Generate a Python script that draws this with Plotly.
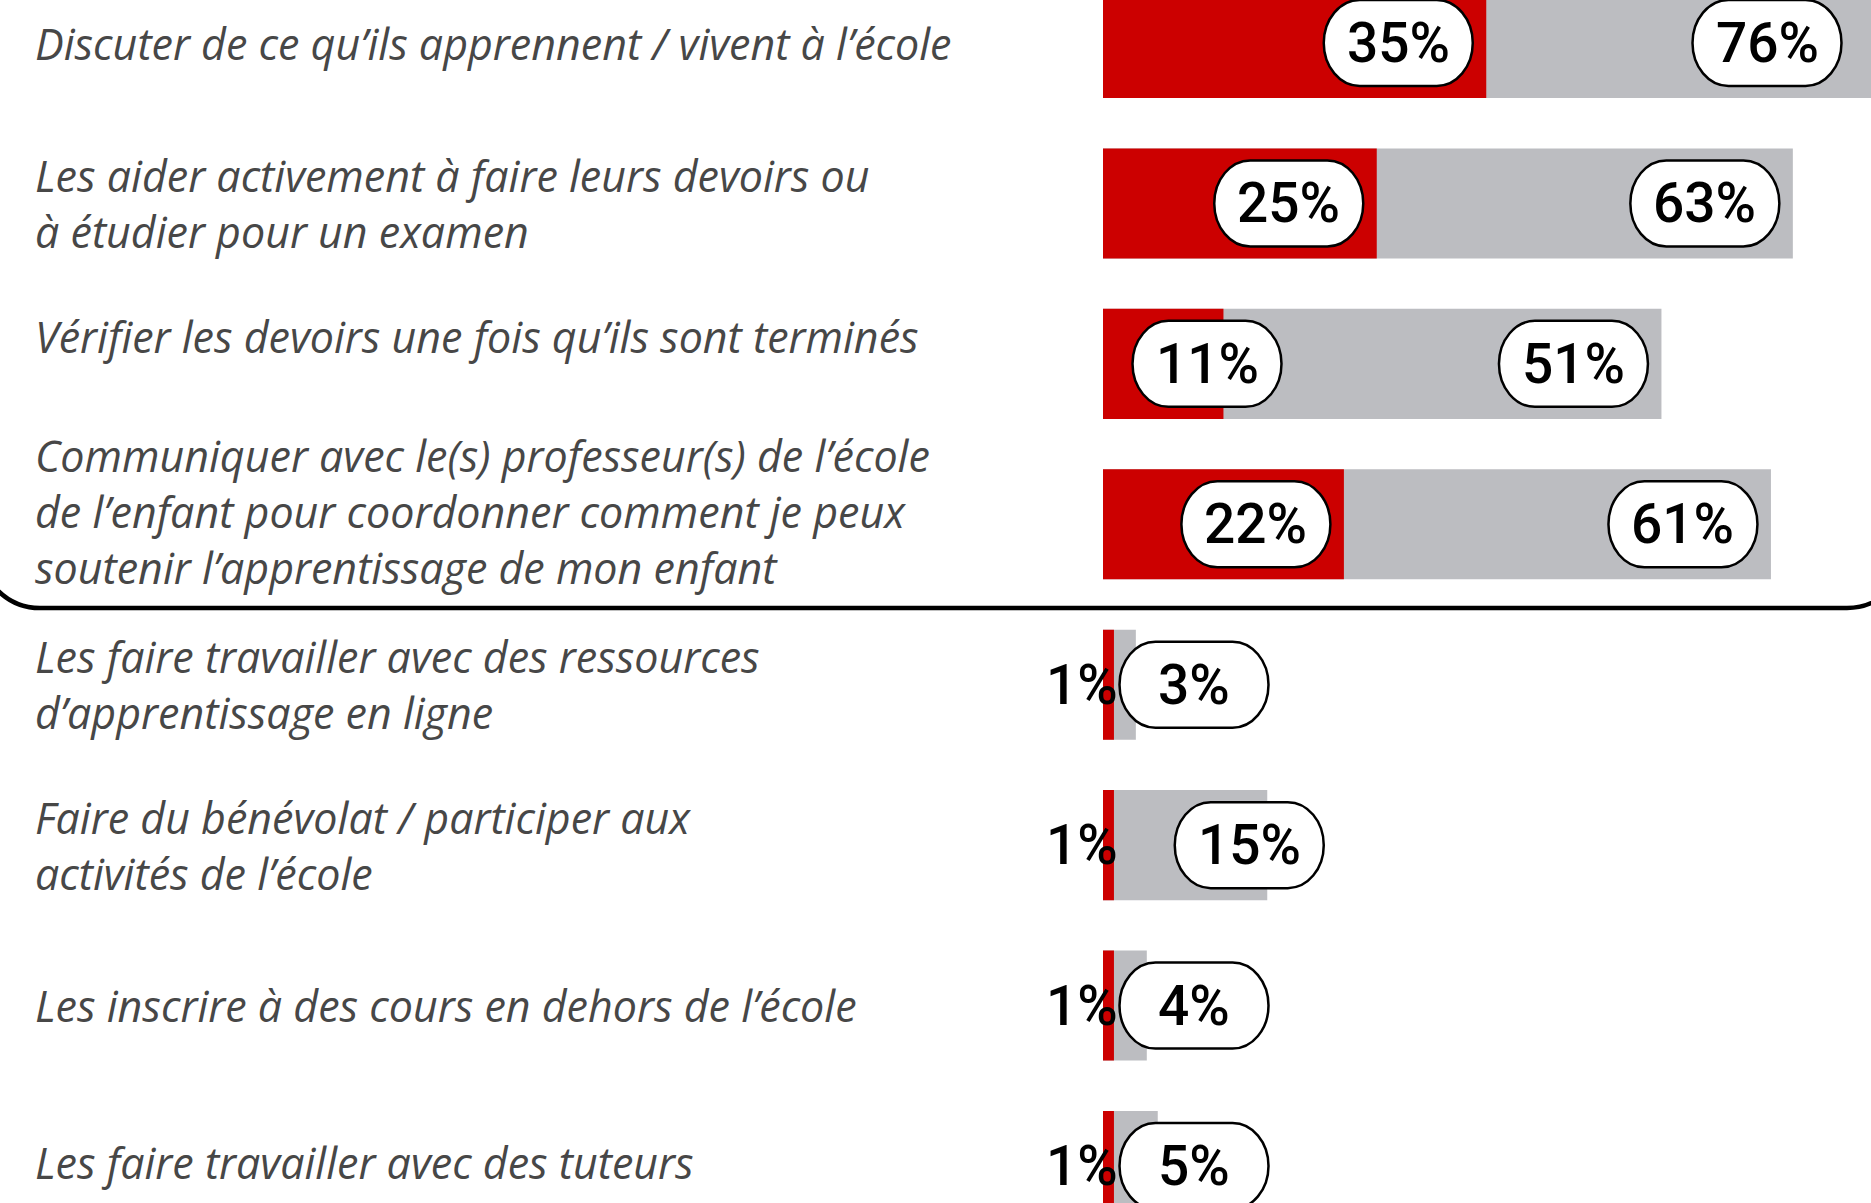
import plotly.graph_objects as go

categories = [
    "Discuter de ce qu’ils apprennent / vivent à l’école",
    "Les aider activement à faire leurs devoirs ou<br>à étudier pour un examen",
    "Vérifier les devoirs une fois qu’ils sont terminés",
    "Communiquer avec le(s) professeur(s) de l’école<br>de l’enfant pour coordonner comment je peux<br>soutenir l’apprentissage de mon enfant",
    "Les faire travailler avec des ressources<br>d’apprentissage en ligne",
    "Faire du bénévolat / participer aux<br>activités de l’école",
    "Les inscrire à des cours en dehors de l’école",
    "Les faire travailler avec des tuteurs",
]
red_values = [35, 25, 11, 22, 1, 1, 1, 1]
grey_values = [76, 63, 51, 61, 3, 15, 4, 5]
highlighted_rows = 4  # first rows inside the framed block

# ---- layout / style constants ----
W, H = 1871, 1203
X0_PX = 1103          # pixel position of value 0
K = 10.95             # pixels per percentage point
ROW0_PX, ROW_STEP = 43, 160.43
RED, GREY = "#CC0000", "#BCBDC1"
TEXT_GREY = "#474747"
label_yshift = [0, 0, 27, 13, 0, 0, 0, 4]
PILL_FONT = dict(family="Roboto", size=55, color="black", weight=500)

x_range = [-X0_PX / K, (W - X0_PX) / K]
y_top = -ROW0_PX / ROW_STEP
y_bot = y_top + H / ROW_STEP
rows = list(range(len(categories)))

fig = go.Figure()
fig.add_trace(go.Bar(y=rows, x=grey_values, orientation="h", marker_color=GREY,
                     width=0.686, marker_line_width=0, showlegend=False, hoverinfo="skip"))
fig.add_trace(go.Bar(y=rows, x=red_values, orientation="h", marker_color=RED,
                     width=0.686, marker_line_width=0, showlegend=False, hoverinfo="skip"))

annotations = []
shapes = []

PW2, PH2, RX = 74.5, 43, 36
C = 0.5523


def pill_path(cx):
    l, r = cx - PW2, cx + PW2
    t, b = PH2, -PH2
    kx, ky = C * RX, C * PH2
    return (f"M {l+RX},{t} L {r-RX},{t} "
            f"C {r-RX+kx},{t} {r},{ky} {r},0 "
            f"C {r},{-ky} {r-RX+kx},{b} {r-RX},{b} "
            f"L {l+RX},{b} "
            f"C {l+RX-kx},{b} {l},{-ky} {l},0 "
            f"C {l},{ky} {l+RX-kx},{t} {l+RX},{t} Z")


def add_pill(row, value, center_px):
    shapes.append(dict(type="path", xref="x", yref="y", xsizemode="pixel", ysizemode="pixel",
                       xanchor=0, yanchor=row, path=pill_path(center_px),
                       fillcolor="white", line=dict(color="black", width=2.5), layer="above"))
    annotations.append(dict(x=0, y=row, xref="x", yref="y", xshift=center_px, showarrow=False,
                            text=f"{value}%", xanchor="center", yanchor="middle",
                            font=PILL_FONT))


for i, (cat, rv, gv) in enumerate(zip(categories, red_values, grey_values)):
    annotations.append(dict(x=33 / W, y=i, xref="paper", yref="y", xanchor="left",
                            yanchor="middle", align="left", showarrow=False, text=cat,
                            yshift=label_yshift[i],
                            font=dict(family="Open Sans", size=43, color=TEXT_GREY,
                                      style="italic")))
    if i < highlighted_rows:
        for v in (rv, gv):
            c = min(max(v * K - 88, 104), (W - X0_PX) - 104)
            add_pill(i, v, c)
    else:
        annotations.append(dict(x=0, y=i, xref="x", yref="y", xanchor="right", yanchor="middle",
                                xshift=17, showarrow=False, text=f"{rv}%", font=PILL_FONT))
        add_pill(i, gv, max(gv * K - 18, 91))


# framing rounded rectangle around the highlighted block (pixel coords)
def px(x, y):
    return f"{x / W},{1 - y / H}"


yb = 608
frame = (f"M {px(-20, -100)} L {px(-20, yb-60)} "
         f"C {px(-20, yb-60+33)} {px(40-33, yb)} {px(40, yb)} "
         f"L {px(1847, yb)} "
         f"C {px(1847+33, yb)} {px(1907, yb-60+33)} {px(1907, yb-60)} "
         f"L {px(1907, -100)}")
shapes.append(dict(type="path", xref="paper", yref="paper", path=frame,
                   line=dict(color="black", width=4.5), layer="above"))

fig.update_layout(
    width=W, height=H, margin=dict(l=0, r=0, t=0, b=0),
    plot_bgcolor="white", paper_bgcolor="white", barmode="overlay",
    xaxis=dict(range=x_range, visible=False, fixedrange=True),
    yaxis=dict(range=[y_bot, y_top], visible=False, fixedrange=True),
    annotations=annotations, shapes=shapes, showlegend=False,
)
fig.write_html("out.html", config={"displayModeBar": False},
               post_script="document.body.style.margin='0';document.body.style.overflow='hidden';")
